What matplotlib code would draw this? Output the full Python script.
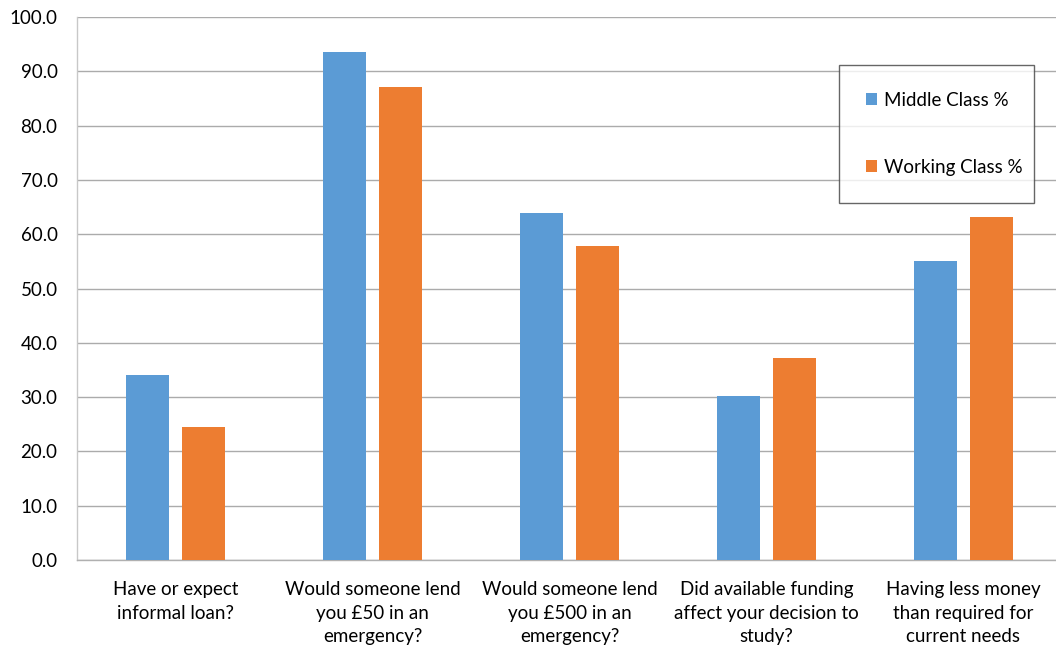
import matplotlib
matplotlib.use("Agg")
import matplotlib.pyplot as plt
import numpy as np

categories = [
    "Have or expect\ninformal loan?",
    "Would someone lend\nyou £50 in an\nemergency?",
    "Would someone lend\nyou £500 in an\nemergency?",
    "Did available funding\naffect your decision to\nstudy?",
    "Having less money\nthan required for\ncurrent needs",
]
middle_class = [34.0, 93.6, 63.9, 30.2, 55.0]
working_class = [24.5, 87.1, 57.8, 37.2, 63.1]
series_names = ["Middle Class %", "Working Class %"]
yticks = [0, 10, 20, 30, 40, 50, 60, 70, 80, 90, 100]

plt.rcParams['font.family'] = ['Lato', 'DejaVu Sans']

fig = plt.figure(figsize=(10.56, 6.52), dpi=100)
ax = fig.add_axes([77/1056, 92/652, 985/1056, 543/652])

x = np.arange(len(categories))
w = 0.223
off = 0.142
ax.bar(x - off, middle_class, w, color="#5B9BD5", label=series_names[0], zorder=3)
ax.bar(x + off, working_class, w, color="#ED7D31", label=series_names[1], zorder=3)

ax.set_xlim(-0.5, 4.5)
ax.set_ylim(0, 100)
ax.set_yticks(yticks)
ax.set_yticklabels([f"{v:.1f}" for v in yticks])
ax.set_xticks(x)
ax.set_xticklabels(categories, linespacing=1.48)
ax.tick_params(axis='y', length=0, pad=14, labelsize=13.5, labelcolor="#000000")
ax.tick_params(axis='x', length=0, pad=15, labelsize=13.5, labelcolor="#000000")
ax.yaxis.grid(True, color="#ababab", linewidth=1.0, zorder=0)
ax.set_axisbelow(True)
for s in ["top", "right"]:
    ax.spines[s].set_visible(False)
ax.spines["left"].set_color("#c8c8c8")
ax.spines["bottom"].set_color("#b0b0b0")
ax.spines["left"].set_linewidth(1.0)
ax.spines["bottom"].set_linewidth(1.0)

leg = fig.legend(loc="upper left",
                 bbox_to_anchor=(839/1056, 1 - 200/652, 195/1056, 135/652),
                 mode="expand",
                 fontsize=13.5, frameon=True, fancybox=False,
                 handlelength=0.58, handleheight=0.58, handletextpad=0.4,
                 labelspacing=2.68, borderpad=1.42, borderaxespad=0)
leg.get_frame().set_edgecolor("#404040")
leg.get_frame().set_linewidth(1.0)

fig.savefig("out.png", dpi=100)
